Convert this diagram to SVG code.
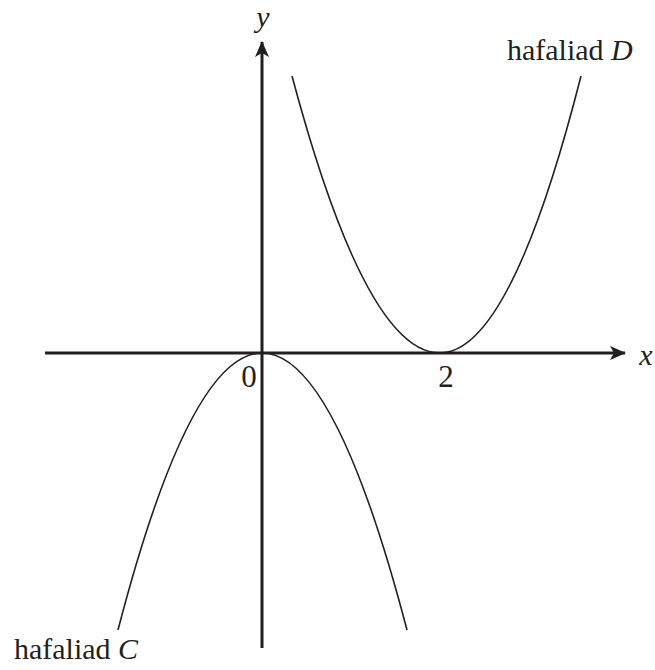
<svg xmlns="http://www.w3.org/2000/svg" width="655" height="670" viewBox="0 0 655 670">
<style>
.t{font-family:"Liberation Serif","Times New Roman",serif;font-size:30px;fill:#231f20}
.d{font-size:31px}
.i{font-style:italic}
.axis{stroke:#231f20;stroke-width:3;fill:none}
.curve{stroke:#231f20;stroke-width:1.6;fill:none}
</style>
<defs>
<marker id="arr" viewBox="0 0 16 14" refX="15" refY="7" markerWidth="16" markerHeight="14" markerUnits="userSpaceOnUse" orient="auto">
<path d="M0,0 L16,7 L0,14 L4,7 Z" fill="#231f20"/>
</marker>
</defs>
<rect width="655" height="670" fill="#fff"/>
<g id="connectors">
<line id="x-axis" class="axis" x1="45" y1="353" x2="625" y2="353" marker-end="url(#arr)"/>
<line id="y-axis" class="axis" x1="262" y1="648" x2="262" y2="42" marker-end="url(#arr)"/>
</g>
<g id="curve-C">
<path class="curve" d="M118,630 Q190,353 262,353 Q334.5,353 407,630"/>
<text class="t" x="14" y="659">hafaliad <tspan class="i">C</tspan></text>
</g>
<g id="curve-D">
<path class="curve" d="M292,76 Q366,353 440,353 Q510.5,353 581,76"/>
<text class="t" x="507" y="60">hafaliad <tspan class="i">D</tspan></text>
</g>
<g id="labels">
<text class="t i" x="263" y="27" text-anchor="middle">y</text>
<text class="t i" x="646" y="365" text-anchor="middle">x</text>
<text class="t d" x="249" y="387" text-anchor="middle">0</text>
<text class="t d" x="446" y="387" text-anchor="middle">2</text>
</g>
</svg>
